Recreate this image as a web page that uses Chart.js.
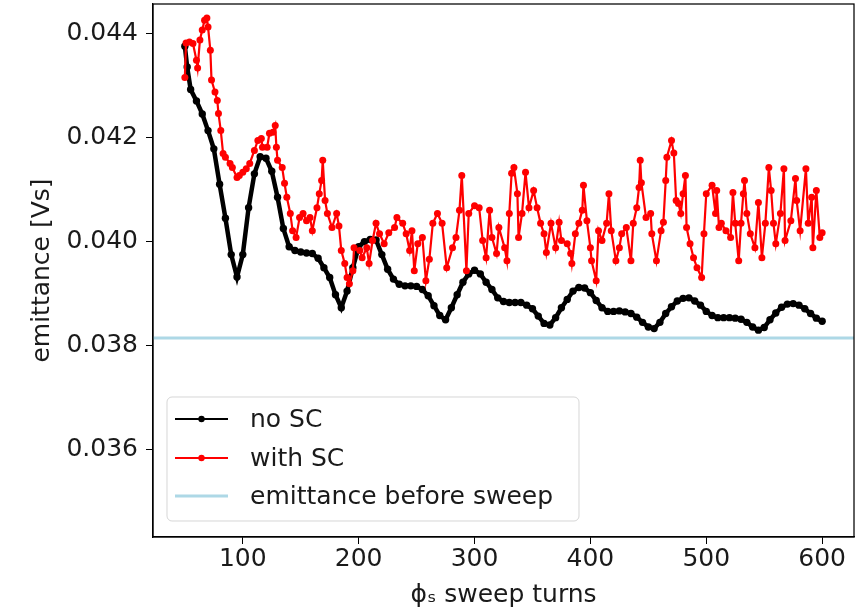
<!DOCTYPE html>
<html><head><meta charset="utf-8">
<script src="https://cdn.jsdelivr.net/npm/chart.js@4.4.1/dist/chart.umd.min.js"></script>
<style>html,body{margin:0;padding:0;background:#fff}#wrap{width:858px;height:610px}</style>
</head><body><div id="wrap"><canvas id="c" width="858" height="610"></canvas></div>
<script>
// ---- data ----
const noScTurns = [50,52,55,60,65,70,75,80,85,90,95,100,105,110,115,120,125,130,135,140,145,150,155,160,165,170,175,180,185,190,195,200,205,210,215,220,225,230,235,240,245,250,255,260,265,270,275,280,285,290,295,300,305,310,315,320,325,330,335,340,345,350,355,360,365,370,375,380,385,390,395,400,405,410,415,420,425,430,435,440,445,450,455,460,465,470,475,480,485,490,495,500,505,510,515,520,525,530,535,540,545,550,555,560,565,570,575,580,585,590,595,600];
const noScValues = [0.04375,0.04335,0.04292,0.04270,0.04245,0.04213,0.04178,0.04110,0.04045,0.03975,0.03932,0.03975,0.04065,0.04130,0.04163,0.04160,0.04135,0.04085,0.04025,0.03990,0.03983,0.03980,0.03978,0.03977,0.03968,0.03950,0.03931,0.03898,0.03873,0.03905,0.03950,0.03990,0.04000,0.04004,0.04003,0.03975,0.03947,0.03928,0.03918,0.03915,0.03915,0.03914,0.03908,0.03896,0.03877,0.03858,0.03850,0.03873,0.03898,0.03922,0.03938,0.03945,0.03938,0.03922,0.03908,0.03892,0.03885,0.03883,0.03883,0.03883,0.03878,0.03871,0.03857,0.03843,0.03840,0.03854,0.03873,0.03889,0.03905,0.03912,0.03911,0.03902,0.03887,0.03873,0.03866,0.03866,0.03867,0.03865,0.03862,0.03855,0.03845,0.03836,0.03833,0.03845,0.03862,0.03875,0.03886,0.03891,0.03892,0.03886,0.03878,0.03866,0.03858,0.03854,0.03854,0.03854,0.03853,0.03851,0.03845,0.03836,0.03830,0.03835,0.03850,0.03863,0.03874,0.03880,0.03881,0.03878,0.03871,0.03862,0.03853,0.03847];

const withScTurns = [50,51,54,57,60,61,63,65,67,69,70,72,73,76,78,79,81,83,85,89,91,95,97,100,103,106,110,113,116,117,121,123,126,128,129,130,134,136,138,141,143,146,149,152,155,158,160,164,166,168,169,171,173,177,181,183,185,188,190,192,195,196,201,203,207,209,212,215,218,222,226,231,233,238,241,244,246,248,251,255,258,261,264,268,272,276,281,284,287,289,293,295,300,304,307,310,313,315,319,321,326,328,330,332,334,337,338,341,344,347,351,354,357,360,362,366,370,373,375,380,383,384,387,390,393,394,397,400,401,405,407,410,414,416,418,422,425,427,431,435,437,440,442,443,444,448,452,453,457,461,463,465,466,470,472,474,476,478,480,482,483,486,489,492,496,498,500,505,508,509,511,513,517,521,523,525,528,530,532,533,535,538,542,545,548,551,554,556,558,560,564,567,568,573,577,578,581,586,588,591,592,595,598,600];
const withScValues = [0.04315,0.04381,0.04383,0.04380,0.04348,0.04333,0.04387,0.04406,0.04425,0.04429,0.04412,0.04367,0.04310,0.04287,0.04271,0.04246,0.04213,0.04169,0.04162,0.04150,0.04142,0.04123,0.04127,0.04133,0.04140,0.04150,0.04175,0.04194,0.04198,0.04181,0.04181,0.04208,0.04210,0.04223,0.04181,0.04156,0.04142,0.04112,0.04085,0.04054,0.04021,0.04008,0.04046,0.04054,0.04040,0.04046,0.04021,0.04065,0.04092,0.04117,0.04156,0.04079,0.04054,0.04027,0.04054,0.04030,0.03983,0.03958,0.03931,0.03919,0.03944,0.03988,0.03983,0.03969,0.03988,0.03958,0.04002,0.04035,0.04015,0.03996,0.04017,0.04027,0.04046,0.04035,0.04015,0.03983,0.04021,0.03944,0.03996,0.04008,0.03925,0.03966,0.04035,0.04054,0.04035,0.03950,0.03988,0.04008,0.04060,0.04127,0.03944,0.04054,0.04069,0.04065,0.04002,0.03969,0.04060,0.04008,0.03977,0.04027,0.03988,0.03963,0.04054,0.04131,0.04142,0.04092,0.04008,0.04054,0.04133,0.04065,0.04098,0.04065,0.04035,0.04015,0.03979,0.04035,0.03988,0.04037,0.04002,0.03996,0.03977,0.03958,0.04015,0.04035,0.04060,0.04108,0.04040,0.03988,0.03963,0.03925,0.04021,0.04002,0.04035,0.04092,0.04021,0.03963,0.03988,0.04015,0.04027,0.03963,0.04035,0.04065,0.04104,0.04156,0.04113,0.04046,0.04054,0.04015,0.03963,0.04021,0.04037,0.04117,0.04162,0.04194,0.04170,0.04079,0.04073,0.04054,0.04092,0.04127,0.04027,0.03996,0.03969,0.03950,0.03931,0.04015,0.04092,0.04108,0.04054,0.04098,0.04027,0.04035,0.04021,0.04008,0.04094,0.04035,0.03963,0.04035,0.04092,0.04117,0.04054,0.04015,0.03988,0.04075,0.03969,0.04035,0.04142,0.04098,0.04035,0.03996,0.04054,0.04140,0.04002,0.04040,0.04121,0.04079,0.04021,0.04140,0.04035,0.04085,0.03988,0.04098,0.04008,0.04017];

const emittanceBeforeSweep = 0.03815;
const xLimits = [22.5, 627.5];
const yLimits = [0.03433, 0.04456];
const xTickValues = [100, 200, 300, 400, 500, 600];
const yTickValues = [0.036, 0.038, 0.040, 0.042, 0.044];
const seriesLabels = ['no SC', 'with SC', 'emittance before sweep'];
const xAxisTitle = 'ϕₛ sweep turns';
const yAxisTitle = 'emittance [Vs]';

// ---- styling ----
const FONT = 'DejaVu Sans';
const TXT = '#1a1a1a';
const colors = ['#000000', '#ff0000', '#add8e6'];

function pts(xs, ys) { return xs.map((x, i) => ({x: x, y: ys[i]})); }

const frameAndLegend = {
  id: 'frameAndLegend',
  afterDatasetsDraw(chart) {
    const {ctx, chartArea: a} = chart;
    ctx.save();
    ctx.strokeStyle = '#000';
    ctx.lineWidth = 1.25;
    ctx.strokeRect(a.left, a.top, a.right - a.left, a.bottom - a.top);
    ctx.restore();
  },
  afterDraw(chart) {
    const {ctx} = chart;
    const bx = 167, by = 397, bw = 412, bh = 124, r = 5;
    ctx.save();
    ctx.globalAlpha = 0.8;
    ctx.fillStyle = '#fff';
    ctx.strokeStyle = '#cccccc';
    ctx.lineWidth = 1;
    ctx.beginPath();
    ctx.moveTo(bx + r, by);
    ctx.arcTo(bx + bw, by, bx + bw, by + bh, r);
    ctx.arcTo(bx + bw, by + bh, bx, by + bh, r);
    ctx.arcTo(bx, by + bh, bx, by, r);
    ctx.arcTo(bx, by, bx + bw, by, r);
    ctx.closePath();
    ctx.fill();
    ctx.stroke();
    ctx.globalAlpha = 1;
    const rows = [419, 458, 496];
    chart.data.datasets.forEach((ds, i) => {
      const y = rows[i];
      ctx.strokeStyle = ds.borderColor;
      ctx.lineWidth = i === 2 ? 3 : 2;
      ctx.beginPath();
      ctx.moveTo(175, y); ctx.lineTo(228, y); ctx.stroke();
      if (i < 2) {
        ctx.fillStyle = ds.borderColor;
        ctx.beginPath(); ctx.arc(201.5, y, 3.2, 0, Math.PI * 2); ctx.fill();
      }
      ctx.fillStyle = TXT;
      ctx.font = '25px "' + FONT + '"';
      ctx.textBaseline = 'middle';
      ctx.textAlign = 'left';
      ctx.fillText(ds.label, 250, y + 1);
    });
    ctx.restore();
  }
};

new Chart(document.getElementById('c'), {
  type: 'line',
  data: {
    datasets: [
      { label: seriesLabels[0], data: pts(noScTurns, noScValues), borderColor: colors[0], backgroundColor: colors[0],
        borderWidth: 4.5, pointRadius: 3.7, pointBorderWidth: 0, pointBackgroundColor: colors[0], order: 3 },
      { label: seriesLabels[1], data: pts(withScTurns, withScValues), borderColor: colors[1], backgroundColor: colors[1],
        borderWidth: 2.2, pointRadius: 3.5, pointBorderWidth: 0, pointBackgroundColor: colors[1], order: 2 },
      { label: seriesLabels[2], data: pts(xLimits, [emittanceBeforeSweep, emittanceBeforeSweep]), borderColor: colors[2],
        backgroundColor: colors[2], borderWidth: 3, pointRadius: 0, order: 1 }
    ]
  },
  options: {
    responsive: false,
    animation: false,
    devicePixelRatio: 1,
    layout: { padding: { top: 3, right: 3, left: 0, bottom: 0 } },
    plugins: { legend: { display: false }, tooltip: { enabled: false } },
    elements: { line: { tension: 0 } },
    scales: {
      x: {
        type: 'linear', min: xLimits[0], max: xLimits[1],
        afterFit(s) { s.height = 73; s.paddingLeft = 0; s.paddingRight = 0; },
        afterBuildTicks(s) { s.ticks = xTickValues.map(v => ({value: v})); },
        grid: { drawOnChartArea: false, drawTicks: true, tickLength: 7, color: '#000', lineWidth: 1 },
        border: { display: true, color: '#000', width: 1.25 },
        ticks: { color: TXT, font: { family: FONT, size: 25, lineHeight: 1.2 }, padding: 0, maxRotation: 0, autoSkip: false,
                 callback: v => String(v) },
        title: { display: true, text: xAxisTitle, color: TXT, font: { family: FONT, size: 25, lineHeight: 1.2 }, padding: { top: 0, bottom: 0 } }
      },
      y: {
        type: 'linear', min: yLimits[0], max: yLimits[1],
        afterFit(s) { s.width = 153; s.paddingTop = 0; s.paddingBottom = 0; },
        afterBuildTicks(s) { s.ticks = yTickValues.map(v => ({value: v})); },
        grid: { drawOnChartArea: false, drawTicks: true, tickLength: 7, color: '#000', lineWidth: 1 },
        border: { display: true, color: '#000', width: 1.25 },
        ticks: { color: TXT, font: { family: FONT, size: 25 }, padding: 8, autoSkip: false,
                 callback: v => v.toFixed(3) },
        title: { display: true, text: yAxisTitle, color: TXT, font: { family: FONT, size: 25, lineHeight: 1.2 }, padding: { top: 27, bottom: 0 } }
      }
    }
  },
  plugins: [frameAndLegend]
});
</script>
</body></html>
